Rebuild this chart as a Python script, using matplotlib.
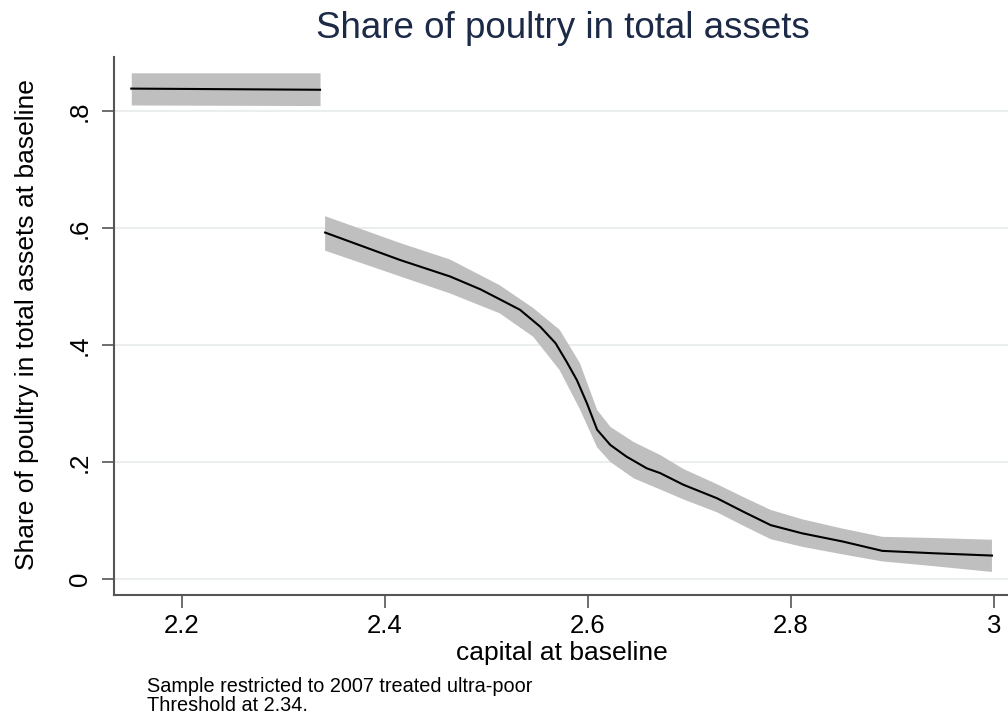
import matplotlib
matplotlib.use("Agg")
import matplotlib.pyplot as plt

plt.rcParams['font.family'] = ['Liberation Sans', 'DejaVu Sans']

# Below-threshold fit (constant share) with its confidence band
x_left = [2.150, 2.336]
y_left = [0.838, 0.836]
lo_left = [0.810, 0.809]
hi_left = [0.865, 0.865]

# Above-threshold fit
x_right = [2.341, 2.415, 2.464, 2.494, 2.513, 2.533, 2.553, 2.568, 2.579, 2.589,
           2.599, 2.609, 2.622, 2.638, 2.658, 2.671, 2.694, 2.727, 2.753, 2.780,
           2.811, 2.851, 2.890, 2.940, 2.998]
y_right = [0.592, 0.545, 0.517, 0.495, 0.478, 0.460, 0.431, 0.403, 0.371, 0.340,
           0.300, 0.255, 0.229, 0.209, 0.189, 0.181, 0.161, 0.138, 0.115, 0.092,
           0.078, 0.064, 0.048, 0.044, 0.040]

# Upper and lower confidence bounds above the threshold
x_hi = [2.341, 2.415, 2.464, 2.513, 2.546, 2.572, 2.592, 2.609, 2.622, 2.645,
        2.671, 2.694, 2.727, 2.753, 2.780, 2.811, 2.851, 2.890, 2.940, 2.998]
y_hi = [0.620, 0.574, 0.546, 0.502, 0.463, 0.426, 0.369, 0.289, 0.260, 0.234,
        0.212, 0.188, 0.162, 0.140, 0.118, 0.102, 0.086, 0.072, 0.070, 0.067]
x_lo = [2.341, 2.415, 2.464, 2.513, 2.546, 2.572, 2.592, 2.609, 2.622, 2.645,
        2.671, 2.694, 2.727, 2.753, 2.780, 2.811, 2.851, 2.890, 2.940, 2.998]
y_lo = [0.561, 0.517, 0.488, 0.454, 0.414, 0.357, 0.290, 0.225, 0.200, 0.172,
        0.153, 0.136, 0.114, 0.091, 0.068, 0.055, 0.042, 0.030, 0.022, 0.012]

xticks = [2.2, 2.4, 2.6, 2.8, 3.0]
xticklabels = ["2.2", "2.4", "2.6", "2.8", "3"]
yticks = [0, 0.2, 0.4, 0.6, 0.8]
yticklabels = ["0", ".2", ".4", ".6", ".8"]

W, H = 1008, 717
fig = plt.figure(figsize=(W / 100, H / 100), dpi=100)
fig.patch.set_facecolor("white")

left_px, right_px, top_px, bottom_px = 114, 1008, 57, 595
ax = fig.add_axes([left_px / W, (H - bottom_px) / H,
                   (right_px - left_px) / W, (bottom_px - top_px) / H])

band_color = "#bfbfbf"
ax.fill_between(x_left, lo_left, hi_left, color=band_color, linewidth=0, zorder=2)
ax.fill(x_hi + x_lo[::-1], y_hi + y_lo[::-1], color=band_color, linewidth=0, zorder=2)
ax.plot(x_left, y_left, color="black", lw=1.5, zorder=3)
ax.plot(x_right, y_right, color="black", lw=1.5, zorder=3, solid_joinstyle="round")

ax.set_xlim(2.133, 3.0138)
ax.set_ylim(-0.0274, 0.892)

for yv in yticks:
    ax.axhline(yv, color="#eaeeee", lw=1.5, zorder=1)

ax.set_xticks(xticks)
ax.set_xticklabels(xticklabels)
ax.set_yticks(yticks)
ax.set_yticklabels(yticklabels, rotation=90, va="center")
ax.tick_params(axis="both", labelsize=18.5, colors="#555555", labelcolor="black",
               length=9, width=1.2)
ax.tick_params(axis="x", pad=5)
ax.tick_params(axis="y", pad=7)

for side in ["top", "right"]:
    ax.spines[side].set_visible(False)
for side in ["left", "bottom"]:
    ax.spines[side].set_color("#555555")
    ax.spines[side].set_linewidth(1.5)

fig.text(563 / W, 1 - 38 / H, "Share of poultry in total assets", ha="center",
         va="baseline", fontsize=26.5, color="#1c2a48")
fig.text(562 / W, 1 - 660 / H, "capital at baseline", ha="center", va="baseline",
         fontsize=19, color="black")
fig.text(27 / W, 1 - 325 / H, "Share of poultry in total assets at baseline",
         ha="center", va="center", rotation=90, fontsize=19, color="black")
fig.text(147 / W, 1 - 692 / H, "Sample restricted to 2007 treated ultra-poor",
         ha="left", va="baseline", fontsize=14.3, color="black")
fig.text(147 / W, 1 - 711 / H, "Threshold at 2.34.",
         ha="left", va="baseline", fontsize=14.3, color="black")

fig.savefig("out.png", dpi=100)
